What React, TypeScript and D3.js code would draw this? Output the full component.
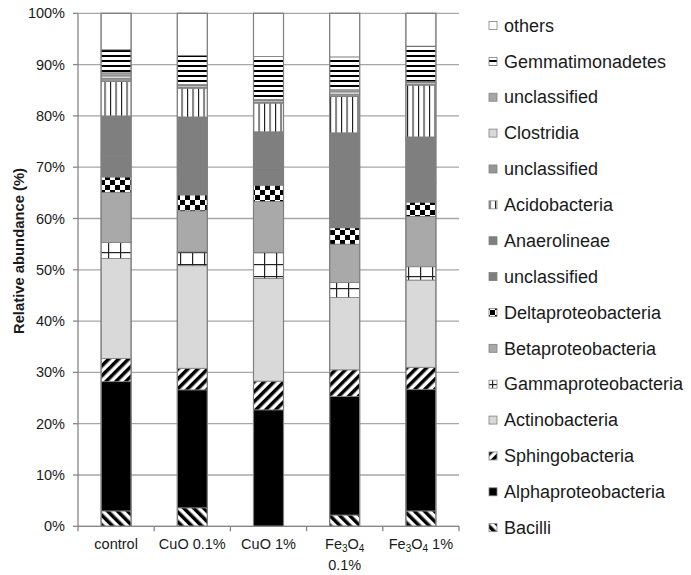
import React from "react";
import * as d3 from "d3";

const categories = ["control", "CuO 0.1%", "CuO 1%", "Fe3O4 0.1%", "Fe3O4 1%"];

// series in stacking order (bottom -> top)
const seriesNames = [
  "Bacilli",
  "Alphaproteobacteria",
  "Sphingobacteria",
  "Actinobacteria",
  "Gammaproteobacteria",
  "Betaproteobacteria",
  "Deltaproteobacteria",
  "unclassified",
  "Anaerolineae",
  "Acidobacteria",
  "unclassified",
  "Clostridia",
  "unclassified",
  "Gemmatimonadetes",
  "others",
];

// values per series, one per category (percent)
const bacilli = [3.0, 3.6, 0.0, 2.2, 3.0];
const alpha = [25.2, 23.0, 22.7, 23.1, 23.7];
const sphingo = [4.5, 4.2, 5.6, 5.2, 4.3];
const actino = [19.5, 20.0, 20.0, 14.1, 17.0];
const gamma = [3.1, 2.7, 5.1, 2.9, 2.6];
const beta = [9.8, 8.0, 9.9, 7.5, 9.8];
const delta = [3.0, 3.1, 3.2, 3.2, 2.8];
const unclassDark = [3.9, 4.2, 3.2, 5.5, 3.6];
const anaerolineae = [8.0, 11.0, 7.2, 13.0, 9.1];
const acido = [6.7, 5.6, 5.6, 7.1, 10.1];
const unclassMid = [0.6, 0.2, 0.2, 0.4, 0.2];
const clostridia = [0.5, 0.3, 0.3, 0.5, 0.3];
const unclassLight = [0.6, 0.2, 0.2, 0.4, 0.2];
const gemma = [4.5, 5.7, 8.4, 6.4, 6.9];
const others = [7.1, 8.2, 8.4, 8.5, 6.4];

const seriesValues = [
  bacilli, alpha, sphingo, actino, gamma, beta, delta, unclassDark,
  anaerolineae, acido, unclassMid, clostridia, unclassLight, gemma, others,
];

const seriesFills = [
  "url(#pBacilli)",
  "#000000",
  "url(#pSphingo)",
  "#d9d9d9",
  "url(#pGamma)",
  "#a9a9a9",
  "url(#pChecker)",
  "#7f7f7f",
  "#7f7f7f",
  "url(#pVert)",
  "#969696",
  "#d9d9d9",
  "#a6a6a6",
  "url(#pHoriz)",
  "#ffffff",
];

const yTicks = [0, 10, 20, 30, 40, 50, 60, 70, 80, 90, 100];

const W = 691;
const H = 575;
const left = 78;
const right = 459;
const top = 13.3;
const bottom = 526.3;

export default function App() {
  const x = d3
    .scaleBand<string>()
    .domain(categories)
    .range([left, right])
    .paddingInner(0.606)
    .paddingOuter(0.303);
  const y = d3.scaleLinear().domain([0, 100]).range([bottom, top]);

  const table = categories.map((c, ci) => {
    const row: any = { cat: c };
    seriesValues.forEach((vals, si) => {
      row["s" + si] = vals[ci];
    });
    return row;
  });
  const keys = seriesValues.map((_, si) => "s" + si);
  const stacked = d3.stack().keys(keys)(table);

  const step = x.step();
  const boundaries = d3.range(categories.length + 1).map((i) => left + i * step);

  const font = "Arial, 'Liberation Sans', Helvetica, sans-serif";
  const legendRowY = (i: number) => 25.5 + i * 35.87;
  const legendOrder = seriesNames.map((_, i) => seriesNames.length - 1 - i);

  const renderLabel = (c: string) => {
    const cx = (x(c) as number) + x.bandwidth() / 2;
    if (c.startsWith("Fe3O4")) {
      const rest = c.replace("Fe3O4", "").trim();
      const twoLine = rest === "0.1%";
      return (
        <g key={c}>
          <text x={cx} y={549} textAnchor="middle" fontSize={14.5} fill="#1a1a1a" fontFamily={font}>
            <tspan>Fe</tspan>
            <tspan fontSize={10} dy={3}>3</tspan>
            <tspan dy={-3}>O</tspan>
            <tspan fontSize={10} dy={3}>4</tspan>
            {!twoLine && <tspan dy={-3}>{" " + rest}</tspan>}
          </text>
          {twoLine && (
            <text x={cx} y={570} textAnchor="middle" fontSize={14.5} fill="#1a1a1a" fontFamily={font}>
              {rest}
            </text>
          )}
        </g>
      );
    }
    return (
      <text key={c} x={cx} y={549} textAnchor="middle" fontSize={14.5} fill="#1a1a1a" fontFamily={font}>
        {c}
      </text>
    );
  };

  return (
    <svg
      width={W}
      height={H}
      style={{ position: "absolute", left: 0, top: 0, background: "#fff" }}
    >
      <defs>
        <pattern id="pHoriz" patternUnits="userSpaceOnUse" width={6} height={5}>
          <rect width={6} height={5} fill="#fff" />
          <rect y={0} width={6} height={2} fill="#000" />
        </pattern>
        <pattern id="pVert" patternUnits="userSpaceOnUse" width={5.5} height={6}>
          <rect width={5.5} height={6} fill="#fff" />
          <rect x={0} width={1.1} height={6} fill="#1a1a1a" />
        </pattern>
        <pattern id="pChecker" patternUnits="userSpaceOnUse" width={10} height={10}>
          <rect width={10} height={10} fill="#fff" />
          <rect x={0} y={0} width={5} height={5} fill="#000" />
          <rect x={5} y={5} width={5} height={5} fill="#000" />
        </pattern>
        <pattern id="pGamma" patternUnits="userSpaceOnUse" width={12} height={12}>
          <rect width={12} height={12} fill="#fff" />
          <rect x={0} y={0} width={1.2} height={12} fill="#222" />
          <rect x={0} y={0} width={12} height={1.2} fill="#222" />
        </pattern>
        <pattern id="pSphingo" patternUnits="userSpaceOnUse" width={7} height={7} patternTransform="rotate(45)">
          <rect width={7} height={7} fill="#fff" />
          <rect x={0} width={3.5} height={7} fill="#000" />
        </pattern>
        <pattern id="pBacilli" patternUnits="userSpaceOnUse" width={7} height={7} patternTransform="rotate(-45)">
          <rect width={7} height={7} fill="#fff" />
          <rect x={0} width={3.5} height={7} fill="#000" />
        </pattern>
      </defs>

      {/* gridlines */}
      {yTicks.map((t) => (
        <line key={"g" + t} x1={left} x2={right} y1={y(t)} y2={y(t)} stroke="#a6a6a6" strokeWidth={1.3} />
      ))}

      {/* bars */}
      {stacked.map((layer, si) => (
        <g key={"layer" + si}>
          {layer.map((d, ci) => {
            const h = y(d[0]) - y(d[1]);
            if (h <= 0) return null;
            return (
              <rect
                key={ci}
                x={x(categories[ci])}
                y={y(d[1])}
                width={x.bandwidth()}
                height={h}
                fill={seriesFills[si]}
                stroke="#7f7f7f"
                strokeWidth={0.8}
              />
            );
          })}
        </g>
      ))}
      {categories.map((c) => (
        <rect
          key={"o" + c}
          x={x(c)}
          y={y(100)}
          width={x.bandwidth()}
          height={y(0) - y(100)}
          fill="none"
          stroke="#808080"
          strokeWidth={1.2}
        />
      ))}

      {/* axes */}
      <line x1={left} x2={left} y1={top} y2={bottom} stroke="#868686" strokeWidth={1.3} />
      {yTicks.map((t) => (
        <g key={"t" + t}>
          <line x1={left - 5} x2={left} y1={y(t)} y2={y(t)} stroke="#868686" strokeWidth={1.3} />
          <text x={65} y={y(t) + 5} textAnchor="end" fontSize={14.5} fill="#1a1a1a" fontFamily={font}>
            {t + "%"}
          </text>
        </g>
      ))}
      <line x1={left} x2={right} y1={bottom} y2={bottom} stroke="#868686" strokeWidth={1.3} />
      {boundaries.map((bx, i) => (
        <line key={"xb" + i} x1={bx} x2={bx} y1={bottom} y2={bottom + 5} stroke="#868686" strokeWidth={1.3} />
      ))}
      {categories.map(renderLabel)}

      <text
        transform={`translate(24,251) rotate(-90)`}
        textAnchor="middle"
        fontSize={14.8}
        fontWeight="bold"
        fill="#1a1a1a"
        fontFamily={font}
      >
        Relative abundance (%)
      </text>

      {/* legend */}
      {legendOrder.map((si, i) => {
        const cy = legendRowY(i);
        return (
          <g key={"lg" + i}>
            <rect x={489} y={cy - 4} width={8} height={8} fill={seriesFills[si]} stroke="#808080" strokeWidth={0.8} />
            <text x={504} y={cy + 6.2} fontSize={18} fill="#1a1a1a" fontFamily={font}>
              {seriesNames[si]}
            </text>
          </g>
        );
      })}
    </svg>
  );
}
